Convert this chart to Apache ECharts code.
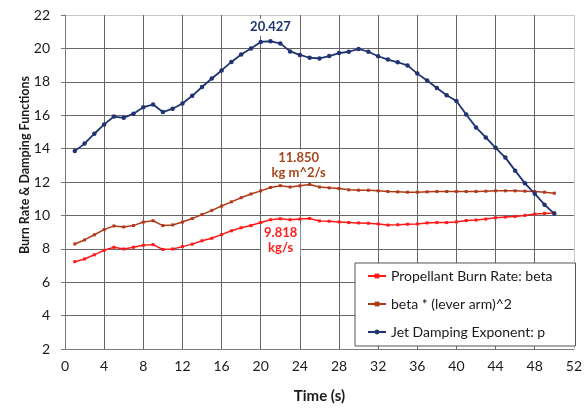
<!DOCTYPE html>
<html><head><meta charset="utf-8">
<script src="https://cdn.jsdelivr.net/npm/echarts@6/dist/echarts.min.js"></script>
<style>html,body{margin:0;padding:0;background:#fff;overflow:hidden;}#c{width:100vw;height:100vh;}</style>
</head><body><div id="c"></div>
<script>
const time = [1,2,3,4,5,6,7,8,9,10,11,12,13,14,15,16,17,18,19,20,21,22,23,24,25,26,27,28,29,30,31,32,33,34,35,36,37,38,39,40,41,42,43,44,45,46,47,48,49,50];
const burnRate = [7.23,7.39,7.64,7.91,8.09,7.99,8.09,8.21,8.25,7.96,7.99,8.13,8.28,8.48,8.63,8.85,9.08,9.26,9.39,9.57,9.74,9.80,9.74,9.78,9.818,9.67,9.65,9.61,9.57,9.55,9.53,9.49,9.42,9.44,9.47,9.49,9.55,9.57,9.57,9.61,9.69,9.72,9.78,9.86,9.90,9.94,10.00,10.08,10.12,10.14];
const betaArm = [8.29,8.53,8.84,9.15,9.37,9.31,9.39,9.60,9.68,9.39,9.43,9.60,9.81,10.05,10.30,10.56,10.81,11.06,11.28,11.47,11.67,11.78,11.70,11.77,11.85,11.70,11.65,11.61,11.53,11.51,11.51,11.47,11.43,11.41,11.39,11.39,11.41,11.43,11.43,11.43,11.43,11.43,11.45,11.47,11.47,11.47,11.45,11.43,11.39,11.33];
const jetDamping = [13.85,14.30,14.89,15.45,15.92,15.84,16.09,16.48,16.64,16.19,16.39,16.70,17.16,17.69,18.20,18.68,19.19,19.64,19.99,20.39,20.427,20.30,19.82,19.61,19.44,19.40,19.54,19.72,19.80,19.97,19.80,19.53,19.33,19.17,18.98,18.49,18.08,17.63,17.20,16.85,16.04,15.27,14.67,14.05,13.46,12.68,11.92,11.30,10.64,10.11];
const seriesNames = ['Propellant Burn Rate: beta','beta * (lever arm)^2','Jet Damping Exponent: p'];
const annotations = [
  {x:25, y:9.818, text:'9.818\nkg/s'},
  {x:25, y:11.85, text:'11.850\nkg m^2/s'},
  {x:21, y:20.427, text:'20.427'}
];
const FONT = 'Lato, "Open Sans", sans-serif';
const pair = (xs, ys) => xs.map((x,i)=>[x, ys[i]]);
const yLines = ['#6b6b6b','#666','#666','#666','#666','#666','#666','#666','#666','#666','#c8c8c8'];
const xLines = ['#7a7a7a','#666','#666','#666','#666','#666','#666','#666','#666','#666','#666','#666','#666','#c8c8c8'];
function mark(a, color, offset){
  return {symbol:'circle', symbolSize:1, itemStyle:{color:'rgba(0,0,0,0)'}, silent:true,
    data:[{coord:[a.x,a.y], label:{show:true, formatter:a.text, position:'inside', offset:offset,
      color:color, fontFamily:FONT, fontWeight:'bold', fontSize:13, lineHeight:15,
      backgroundColor:'#fff', padding:[1,3]}}]};
}
const chart = echarts.init(document.getElementById('c'), null, {renderer:'canvas'});
chart.setOption({
  animation:false,
  textStyle:{fontFamily:FONT},
  grid:{left:65, right:8, top:15, bottom:54, containLabel:false},
  xAxis:{type:'value', min:0, max:52, interval:4,
    name:'Time (s)', nameLocation:'middle', nameGap:40,
    nameTextStyle:{fontFamily:FONT, fontWeight:'bold', fontSize:15, color:'#1a1a1a'},
    axisLine:{show:true, lineStyle:{color:'#7a7a7a'}}, axisTick:{show:false},
    axisLabel:{fontFamily:FONT, fontSize:14, color:'#1a1a1a', margin:10},
    splitLine:{show:true, lineStyle:{color:xLines, width:1}}},
  yAxis:{type:'value', min:2, max:22, interval:2,
    axisLine:{show:true, lineStyle:{color:'#7a7a7a'}}, axisTick:{show:true, length:4, lineStyle:{color:'#7a7a7a'}},
    axisLabel:{fontFamily:FONT, fontSize:14, color:'#1a1a1a', margin:15},
    splitLine:{show:true, lineStyle:{color:yLines, width:1}}},
  legend:{orient:'vertical', left:355, top:263, padding:[6,23,7,12], itemGap:14,
    itemWidth:18, itemHeight:6, backgroundColor:'#fff', borderColor:'#555', borderWidth:1,
    textStyle:{fontFamily:FONT, fontSize:14, color:'#1a1a1a', lineHeight:14}, data:seriesNames},
  graphic:[{type:'text', x:25, y:165, rotation:Math.PI/2,
    style:{text:'Burn Rate & Damping Functions', font:'bold 12.5px '+FONT, fill:'#1a1a1a',
      textAlign:'center', textVerticalAlign:'middle'}}],
  series:[
    {name:seriesNames[0], type:'line', data:pair(time,burnRate), color:'#ff1a1a',
     lineStyle:{width:1.5, color:'#ff1a1a'}, symbol:'rect', symbolSize:3, showSymbol:true,
     markPoint:mark(annotations[0], '#ff2020', [-29,22]), z:3},
    {name:seriesNames[1], type:'line', data:pair(time,betaArm), color:'#b0391a',
     lineStyle:{width:1.5, color:'#b0391a'}, symbol:'rect', symbolSize:3, showSymbol:true,
     markPoint:mark(annotations[1], '#a8461c', [-11,-19]), z:3},
    {name:seriesNames[2], type:'line', data:pair(time,jetDamping), color:'#1f3470',
     lineStyle:{width:1.8, color:'#1f3470'}, symbol:'circle', symbolSize:4.5, showSymbol:true,
     markPoint:mark(annotations[2], '#1f3470', [0,-14]), z:4}
  ]
});
</script></body></html>
